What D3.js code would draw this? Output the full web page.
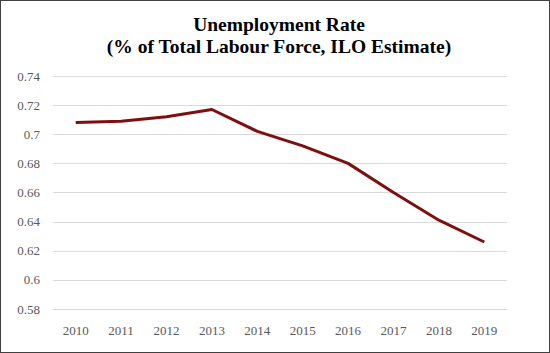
<!DOCTYPE html>
<html>
<head>
<meta charset="utf-8">
<script src="https://cdn.jsdelivr.net/npm/d3@7"></script>
<style>
  body { margin: 0; background: #fff; }
  svg { display: block; }
</style>
</head>
<body>
<div id="chart"></div>
<script>
// values
const years = ["2010", "2011", "2012", "2013", "2014", "2015", "2016", "2017", "2018", "2019"];
const rates = [0.708, 0.709, 0.712, 0.717, 0.702, 0.692, 0.680, 0.660, 0.641, 0.626];
const yTicks = [0.58, 0.6, 0.62, 0.64, 0.66, 0.68, 0.7, 0.72, 0.74];
const titleLines = ["Unemployment Rate", "(% of Total Labour Force, ILO Estimate)"];

function drawChart(container) {
    const width = 550;
    const height = 353;
    const margin = {top: 76, right: 43, bottom: 44, left: 53};

    const svg = d3.select(container).append("svg")
        .attr("width", width)
        .attr("height", height);

    svg.append("rect")
        .attr("x", 0.5).attr("y", 0.5)
        .attr("width", width - 1).attr("height", height - 1)
        .attr("fill", "#fff")
        .attr("stroke", "#404040");

    const x = d3.scaleBand()
        .domain(years)
        .range([margin.left, width - margin.right]);

    const y = d3.scaleLinear()
        .domain([0.58, 0.74])
        .range([height - margin.bottom, margin.top]);

    // gridlines
    svg.append("g")
        .selectAll("line")
        .data(yTicks)
        .join("line")
        .attr("x1", margin.left)
        .attr("x2", width - margin.right)
        .attr("y1", d => Math.round(y(d)) + 0.5)
        .attr("y2", d => Math.round(y(d)) + 0.5)
        .attr("stroke", "#d9d9d9")
        .attr("stroke-width", 1);

    // y labels
    svg.append("g")
        .selectAll("text")
        .data(yTicks)
        .join("text")
        .attr("x", 40)
        .attr("y", d => y(d))
        .attr("dy", "0.35em")
        .attr("text-anchor", "end")
        .attr("font-family", "Liberation Serif, serif")
        .attr("font-size", 13)
        .attr("fill", "#595959")
        .text(d => d);

    // x labels
    svg.append("g")
        .selectAll("text")
        .data(years)
        .join("text")
        .attr("x", d => x(d) + x.bandwidth() / 2)
        .attr("y", height - margin.bottom + 26)
        .attr("text-anchor", "middle")
        .attr("font-family", "Liberation Serif, serif")
        .attr("font-size", 13)
        .attr("fill", "#595959")
        .text(d => d);

    const line = d3.line()
        .x((d, i) => x(years[i]) + x.bandwidth() / 2)
        .y(d => y(d));

    svg.append("path")
        .datum(rates)
        .attr("fill", "none")
        .attr("stroke", "#7f0f0f")
        .attr("stroke-width", 3)
        .attr("stroke-linejoin", "round")
        .attr("d", line);

    svg.append("g")
        .selectAll("text")
        .data(titleLines)
        .join("text")
        .attr("x", 279)
        .attr("y", (d, i) => 31 + i * 22)
        .attr("text-anchor", "middle")
        .attr("font-family", "Liberation Serif, serif")
        .attr("font-weight", "bold")
        .attr("font-size", 19.5)
        .attr("fill", "#000")
        .text(d => d);
}

drawChart("#chart");
</script>
</body>
</html>
